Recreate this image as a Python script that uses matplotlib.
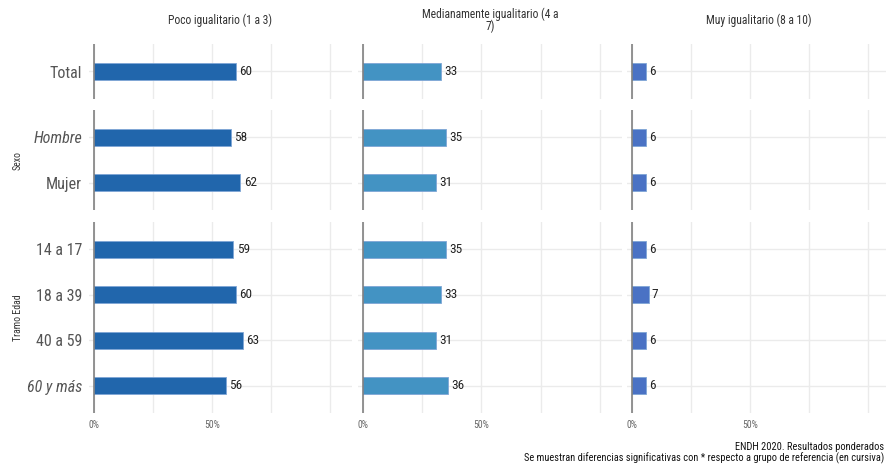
import matplotlib
matplotlib.use("Agg")
import matplotlib.pyplot as plt
from matplotlib import font_manager

# tipografia: se busca una condensada si existe
nombres = set(f.name for f in font_manager.fontManager.ttflist)
fuente = "DejaVu Sans"
for f in ["Roboto Condensed", "Liberation Sans Narrow", "Roboto"]:
    if f in nombres:
        fuente = f
        break
plt.rcParams["font.family"] = [fuente, "DejaVu Sans"]

# datos
columnas = ["Poco igualitario (1 a 3)", "Medianamente igualitario (4 a\n7)", "Muy igualitario (8 a 10)"]
colores = ["#2166ac", "#4393c3", "#4a72c4"]
grupos = ["", "Sexo", "Tramo Edad"]
categorias = [["Total"], ["Hombre", "Mujer"], ["14 a 17", "18 a 39", "40 a 59", "60 y más"]]
cursiva = ["Hombre", "60 y más"]

poco = [[60], [58, 62], [59, 60, 63, 56]]
medio = [[33], [35, 31], [35, 33, 31, 36]]
muy = [[6], [6, 6], [6, 7, 6, 6]]
valores = [poco, medio, muy]

W, H = 886, 465
fig = plt.figure(figsize=(W / 100, H / 100), dpi=100)

# posiciones de los paneles en pixeles
cols_px = [(89, 352), (358, 622), (627, 890)]
rows_px = [(44, 99), (110, 210), (222, 413)]
xmin, xmax = -0.0212, 1.093

for j, (x0, x1) in enumerate(cols_px):
    for i, (y0, y1) in enumerate(rows_px):
        ax = fig.add_axes([x0 / W, 1 - y1 / H, (x1 - x0) / W, (y1 - y0) / H])
        cats = categorias[i]
        vals = [v / 100 for v in valores[j][i]]
        pos = list(range(len(cats)))
        ax.set_xlim(xmin, xmax)
        ax.set_ylim(len(cats) - 0.4, -0.6)
        for g in [0, 0.25, 0.5, 0.75, 1.0]:
            ax.axvline(g, color="#ebebeb", lw=1.0, zorder=0)
        for p in pos:
            ax.axhline(p, color="#ebebeb", lw=1.0, zorder=0)
        ax.axvline(0, color="#777777", lw=1.1, zorder=3)
        ax.barh(pos, vals, height=0.37, color=colores[j], edgecolor="#7fa6d6",
                linewidth=0.6, zorder=2)
        for p, v in zip(pos, valores[j][i]):
            ax.text(v / 100 + 0.014, p, str(v), va="center", ha="left",
                    fontsize=9.5, color="#222222", zorder=4)
        for s in ax.spines.values():
            s.set_visible(False)
        ax.set_xticks([])
        ax.tick_params(length=0)
        if j == 0:
            ax.set_yticks(pos)
            ax.set_yticklabels(cats, fontsize=11.5, color="#555555")
            for lab in ax.get_yticklabels():
                if lab.get_text() in cursiva:
                    lab.set_style("italic")
            ax.tick_params(axis="y", pad=5)
        else:
            ax.set_yticks([])
        if i == 2:
            for t in [0, 0.5]:
                ax.text(t, -12 / (y1 - y0), "%d%%" % (t * 100),
                        transform=ax.get_xaxis_transform(), ha="center",
                        va="center", fontsize=7, color="#666666")
        if i == 0:
            ax.text(0.5, 1 + 24 / (y1 - y0), columnas[j],
                    transform=ax.transAxes, ha="center", va="center",
                    fontsize=8.4, color="#333333", linespacing=0.9)

# etiquetas de grupo a la izquierda
for i, (y0, y1) in enumerate(rows_px):
    if grupos[i]:
        fig.text(18 / W, 1 - (y0 + y1) / 2 / H, grupos[i], rotation=90,
                 ha="center", va="center", fontsize=7, color="#333333")

fig.text(884 / W, 1 - 447 / H, "ENDH 2020. Resultados ponderados",
         ha="right", va="center", fontsize=7.5, color="#111111")
fig.text(884 / W, 1 - 458 / H,
         "Se muestran diferencias significativas con * respecto a grupo de referencia (en cursiva)",
         ha="right", va="center", fontsize=7.5, color="#111111")

fig.savefig("out.png", dpi=100)
